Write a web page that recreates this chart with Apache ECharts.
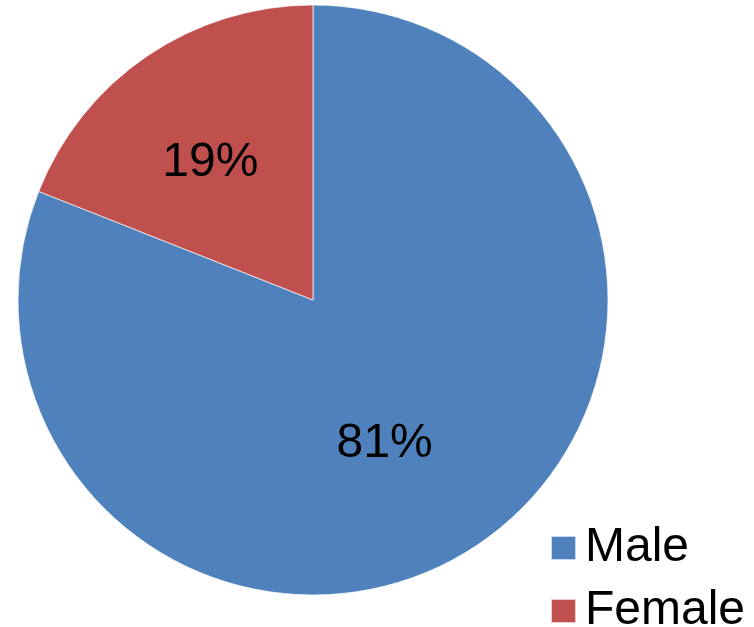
<!DOCTYPE html>
<html>
<head>
<meta charset="utf-8">
<script src="https://cdn.jsdelivr.net/npm/echarts@6/dist/echarts.min.js"></script>
<style>
	html, body { margin: 0; padding: 0; background: #fff; }
	#main { width: 754px; height: 627px; }
</style>
</head>
<body>
<div id="main"></div>
<script>
var categories = ['Male', 'Female'];
var values = [81, 19];
var colors = ['#4F81BD', '#C0504D'];
var labelOffsets = [[-13, 19], [-18, -13]];

var myChart = echarts.init(document.getElementById('main'));

var pieData = [];
for (var i = 0; i < categories.length; i++) {
	pieData.push({
		name: categories[i],
		value: values[i],
		itemStyle: { color: colors[i] },
		label: { offset: labelOffsets[i] }
	});
}

var option = {
	animation: false,
	textStyle: { fontFamily: 'Liberation Sans, Arial, sans-serif' },
	legend: {
		orient: 'vertical',
		left: 550,
		top: 524,
		width: 204,
		height: 200,
		padding: 0,
		icon: 'rect',
		itemWidth: 25,
		itemHeight: 24,
		itemGap: 15,
		data: categories,
		textStyle: {
			color: '#000',
			fontSize: 48,
			lineHeight: 36,
			padding: [0, 0, 0, 4],
			fontFamily: 'Liberation Sans, Arial, sans-serif'
		}
	},
	series: [
		{
			type: 'pie',
			center: [313, 300],
			radius: [0, 295],
			startAngle: 90,
			clockwise: true,
			itemStyle: {
				borderColor: 'rgba(255,255,255,0.7)',
				borderWidth: 1
			},
			label: {
				show: true,
				position: 'inside',
				formatter: '{c}%',
				color: '#000',
				fontSize: 48,
				fontFamily: 'Liberation Sans, Arial, sans-serif'
			},
			labelLine: { show: false },
			emphasis: { disabled: true },
			data: pieData
		}
	]
};

myChart.setOption(option);
window.addEventListener('resize', function () {
	myChart.resize();
});
</script>
</body>
</html>
